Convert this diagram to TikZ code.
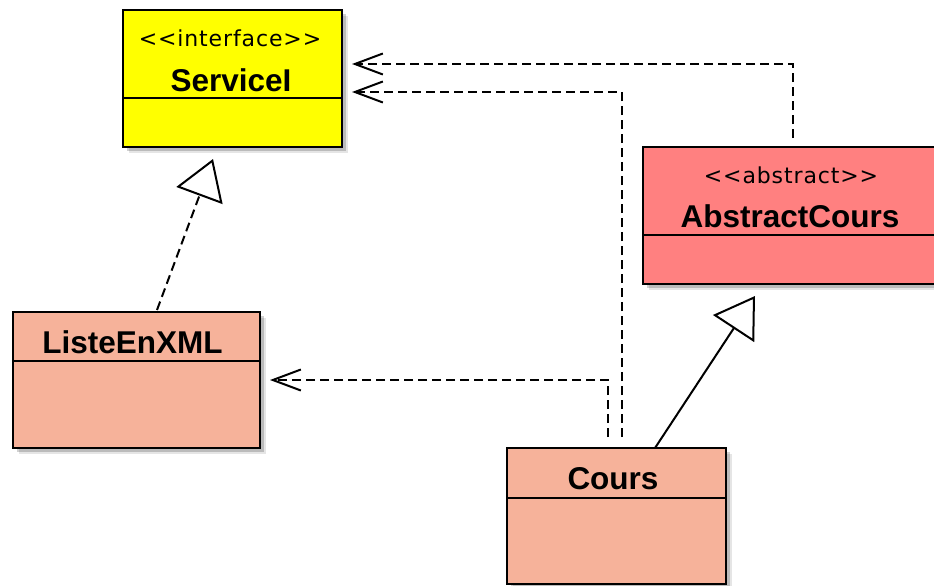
\documentclass[tikz,border=0pt]{standalone}
\usepackage{fontspec}
\setmainfont{Liberation Sans}
\newfontfamily\stereofont[LetterSpace=4]{DejaVu Sans}
\usetikzlibrary{arrows.meta,shadows}

\definecolor{ifacefill}{RGB}{255,255,0}
\definecolor{abstractfill}{RGB}{255,128,128}
\definecolor{classfill}{RGB}{246,178,154}

\begin{document}
\begin{tikzpicture}[x=1pt,y=-1pt,
  classbox/.style={rectangle, draw=black, line width=2pt, inner sep=0pt, outer sep=0pt,
    drop shadow={shadow xshift=6pt,shadow yshift=-6pt,fill=black,opacity=.10},
    drop shadow={shadow xshift=4pt,shadow yshift=-4pt,fill=black,opacity=.18}},
  divider/.style={line width=2pt},
  stereo/.style={anchor=base, inner sep=0pt, font=\stereofont\fontsize{22}{26}\selectfont},
  cname/.style={anchor=base, inner sep=0pt, font=\bfseries\fontsize{31.5}{36}\selectfont},
  depend/.style={line width=2pt, dash pattern=on 9pt off 5pt,
    -{Straight Barb[length=28pt,width=21pt,line width=2pt]}},
  realize/.style={line width=2pt, dash pattern=on 9pt off 5pt,
    -{Triangle[open,length=39pt,width=49pt,line width=2pt]}},
  inherit/.style={line width=2pt,
    -{Triangle[open,length=39pt,width=49pt,line width=2pt]}}
]
  % canvas
  \fill[white] (0,0) rectangle (934,586);
  \useasboundingbox (0,0) rectangle (934,586);

  % class boxes
  \node[classbox, fill=ifacefill, minimum width=219pt, minimum height=137pt] (svc) at (232.5,78.5) {};
  \node[classbox, fill=abstractfill, minimum width=294pt, minimum height=137pt] (abs) at (790,215.5) {};
  \node[classbox, fill=classfill, minimum width=247pt, minimum height=136pt] (lst) at (136.5,380) {};
  \node[classbox, fill=classfill, minimum width=219pt, minimum height=136pt] (crs) at (616.5,516) {};

  % compartment separators
  \draw[divider] ([yshift=-88pt]svc.north west) -- ([yshift=-88pt]svc.north east);
  \draw[divider] ([yshift=-88pt]abs.north west) -- ([yshift=-88pt]abs.north east);
  \draw[divider] ([yshift=-49pt]lst.north west) -- ([yshift=-49pt]lst.north east);
  \draw[divider] ([yshift=-50pt]crs.north west) -- ([yshift=-50pt]crs.north east);

  % labels
  \node[stereo] (svcst) at (230,47) {<<interface>>};
  \node[cname]  (svcnm) at (231,91) {ServiceI};
  \node[stereo] (absst) at (791,183) {<<abstract>>};
  \node[cname]  (absnm) at (790,227) {AbstractCours};
  \node[cname]  (lstnm) at (132.5,353) {ListeEnXML};
  \node[cname]  (crsnm) at (613,489) {Cours};

  % dependencies
  \draw[depend] ([xshift=3pt,yshift=9pt]abs.north) |- ([xshift=10pt,yshift=14.5pt]svc.east);
  \draw[depend] ([xshift=5pt,yshift=11pt]crs.north) |- ([xshift=10pt,yshift=-13.5pt]svc.east);
  \draw[depend] ([xshift=-8.5pt,yshift=11pt]crs.north) |- ([xshift=10pt]lst.east);

  % realization and generalization
  \draw[realize] ([xshift=20.5pt,yshift=2pt]lst.north) -- ([xshift=-19.5pt,yshift=-12pt]svc.south);
  \draw[inherit] ([xshift=38.5pt]crs.north) -- ([xshift=-35pt,yshift=-12pt]abs.south);
\end{tikzpicture}
\end{document}
